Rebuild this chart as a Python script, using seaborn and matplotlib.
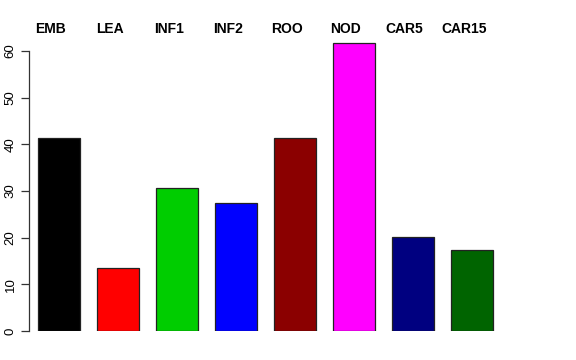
import matplotlib
matplotlib.use("Agg")
import matplotlib.pyplot as plt
import matplotlib.transforms as mtransforms
import seaborn as sns
import pandas as pd

# values
categories = ["EMB", "LEA", "INF1", "INF2", "ROO", "NOD", "CAR5", "CAR15"]
values = [41.4, 13.5, 30.6, 27.4, 41.4, 61.7, 20.1, 17.4]
colors = ["#000000", "#FF0000", "#00CD00", "#0000FF",
          "#8B0000", "#FF00FF", "#000080", "#006400"]

sns.set_style("white", {"text.color": "black", "ytick.color": "black",
                        "axes.labelcolor": "black"})
plt.rcParams["font.family"] = ["Liberation Sans", "DejaVu Sans"]

df = pd.DataFrame({"tissue": categories, "value": values})

fig = plt.figure(figsize=(5.76, 3.6), dpi=100)
# axes box in pixels: left 29, right 560, bottom 331, top 20
ax = fig.add_axes([29 / 576, 29 / 360, (560 - 29) / 576, 311 / 360])

sns.barplot(data=df, x="tissue", y="value", hue="tissue", palette=colors,
            legend=False, width=0.7, edgecolor="#222222", linewidth=0.9,
            saturation=1, ax=ax)

ax.set_xlim(-30 / 59, (560 - 59) / 59)
ax.set_ylim(0, 311 / (280 / 60))
ax.set_xlabel("")
ax.set_ylabel("")
ax.set_xticks([])

for side in ["top", "right", "bottom"]:
    ax.spines[side].set_visible(False)
ax.spines["left"].set_bounds(0, 60)
ax.spines["left"].set_color("#333333")
ax.spines["left"].set_linewidth(0.9)

ax.set_yticks(range(0, 61, 10))
ax.tick_params(axis="y", direction="out", length=6, width=0.9, color="#333333",
               labelsize=9.5, labelcolor="black", pad=3, left=True)
for lab in ax.get_yticklabels():
    lab.set_rotation(90)
    lab.set_va("center")

# labels above the bars, in the top margin
trans = mtransforms.blended_transform_factory(ax.transData, fig.transFigure)
for i, name in enumerate(categories):
    ax.text(i - 0.14, 1 - 29 / 360, name, transform=trans, ha="center",
            va="center", fontsize=10, fontweight="bold", color="black",
            clip_on=False)

fig.savefig("out.png", dpi=100)
